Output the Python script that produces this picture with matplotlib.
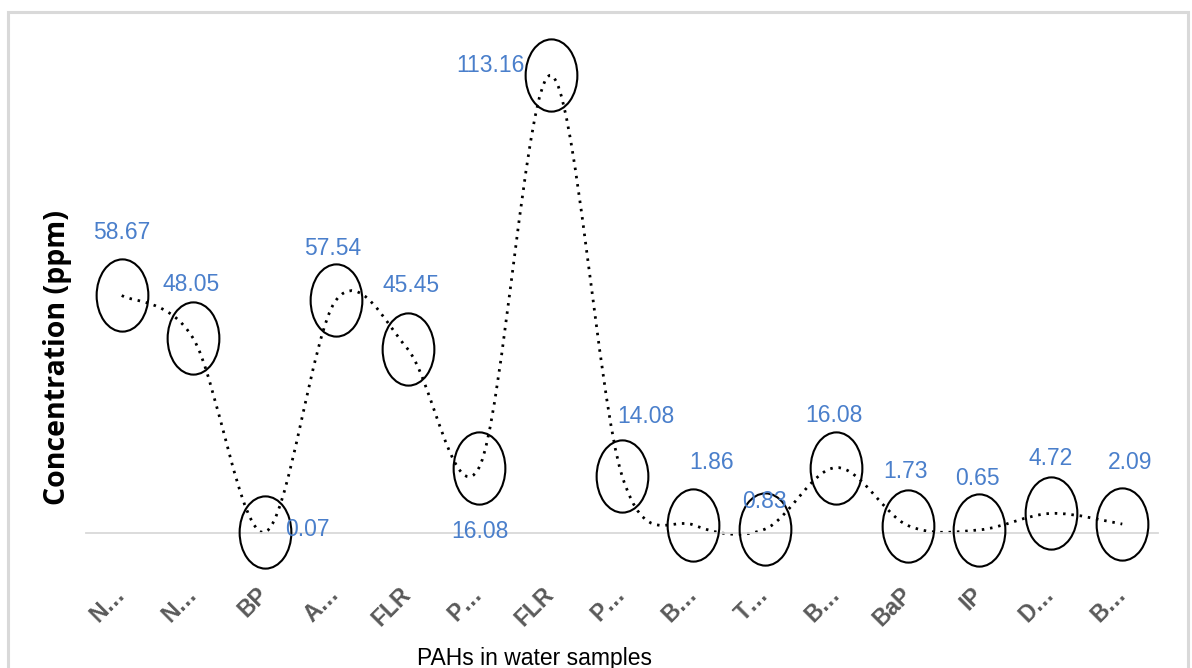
import numpy as np
import matplotlib
matplotlib.use("Agg")
import matplotlib.pyplot as plt
from matplotlib.path import Path
from matplotlib.patches import PathPatch, Rectangle
from matplotlib.transforms import Affine2D

# data
categories = ["N\u2026", "N\u2026", "BP", "A\u2026", "FLR", "P\u2026", "FLR", "P\u2026",
              "B\u2026", "T\u2026", "B\u2026", "BaP", "IP", "D\u2026", "B\u2026"]
values = [58.67, 48.05, 0.07, 57.54, 45.45, 16.08, 113.16, 14.08,
          1.86, 0.83, 16.08, 1.73, 0.65, 4.72, 2.09]
label_text = ["58.67", "48.05", "0.07", "57.54", "45.45", "16.08", "113.16", "14.08",
              "1.86", "0.83", "16.08", "1.73", "0.65", "4.72", "2.09"]

# label placement (pixels from the point, label centre)
label_dx = [0, -2, 43, -3, 3, 1, -60, 24, 18, 0, -2, -2, -2, 0, 8]
label_dy = [65, 56, 5, 54, 65, -62, 12, 61, 64, 30, 54, 56, 53, 57, 64]

W, H = 1192, 668
fig = plt.figure(figsize=(W / 100, H / 100), dpi=100)
ax = fig.add_axes([86 / W, (H - 532.5) / H, (1158 - 86) / W, 484.8 / H])

n = len(values)
x = np.arange(n)
ax.set_xlim(-0.5, n - 0.5)
ax.set_ylim(0, 120)

# smoothed line, bezier segments like excel's "smoothed line"
pts = np.column_stack([x, values]).astype(float)
verts = [pts[0]]
codes = [Path.MOVETO]
for i in range(n - 1):
    p0 = pts[max(i - 1, 0)]
    p1 = pts[i]
    p2 = pts[i + 1]
    p3 = pts[min(i + 2, n - 1)]
    verts += [p1 + (p2 - p0) / 6, p2 - (p3 - p1) / 6, p2]
    codes += [Path.CURVE4] * 3
line = PathPatch(Path(verts, codes), fill=False, edgecolor="black", lw=2.0,
                 linestyle=(0, (0.9, 2.1)), capstyle="butt", clip_on=False, zorder=2)
ax.add_patch(line)

# tall hollow ellipse markers
ell = Path.unit_circle().transformed(Affine2D().scale(53 / 74, 1))
ax.plot(x, values, linestyle="none", marker=ell, markersize=52,
        mfc="none", mec="black", mew=1.5, clip_on=False, zorder=3)

for i in range(n):
    ax.annotate(label_text[i], (x[i], values[i]),
                xytext=(label_dx[i], label_dy[i] - 8.5), textcoords="offset pixels",
                ha="center", va="baseline", color="#4A7FCB", fontsize=16.5,
                family=["Liberation Sans", "DejaVu Sans"], zorder=4,
                annotation_clip=False)

for s in ["top", "right", "left"]:
    ax.spines[s].set_visible(False)
ax.spines["bottom"].set_color("#D9D9D9")
ax.spines["bottom"].set_linewidth(1.3)
ax.set_yticks([])
ax.set_xticks(x)
ax.set_xticklabels(categories, rotation=45, ha="right", va="center",
                   rotation_mode="anchor", color="#595959", fontsize=16.5,
                   fontweight="bold", family=["Liberation Sans", "DejaVu Sans"])
ax.tick_params(axis="x", length=0, pad=42)

fig.text(58 / W, 1 - 358 / H, "Concentration (ppm)", rotation=90, ha="center",
         va="center", fontsize=20.5, fontweight="bold", color="black",
         family=["Open Sans", "DejaVu Sans"])
fig.text(534.5 / W, 1 - 665 / H, "PAHs in water samples", ha="center", va="baseline",
         fontsize=16.5, color="black", family=["Liberation Sans", "DejaVu Sans"])

# chart area border
fig.patches.append(Rectangle((8 / W, -0.1), (1188 - 8) / W, 1.1 - 12 / H,
                             transform=fig.transFigure, fill=False,
                             edgecolor="#D9D9D9", lw=2.2))

fig.savefig("out.png", dpi=100)
